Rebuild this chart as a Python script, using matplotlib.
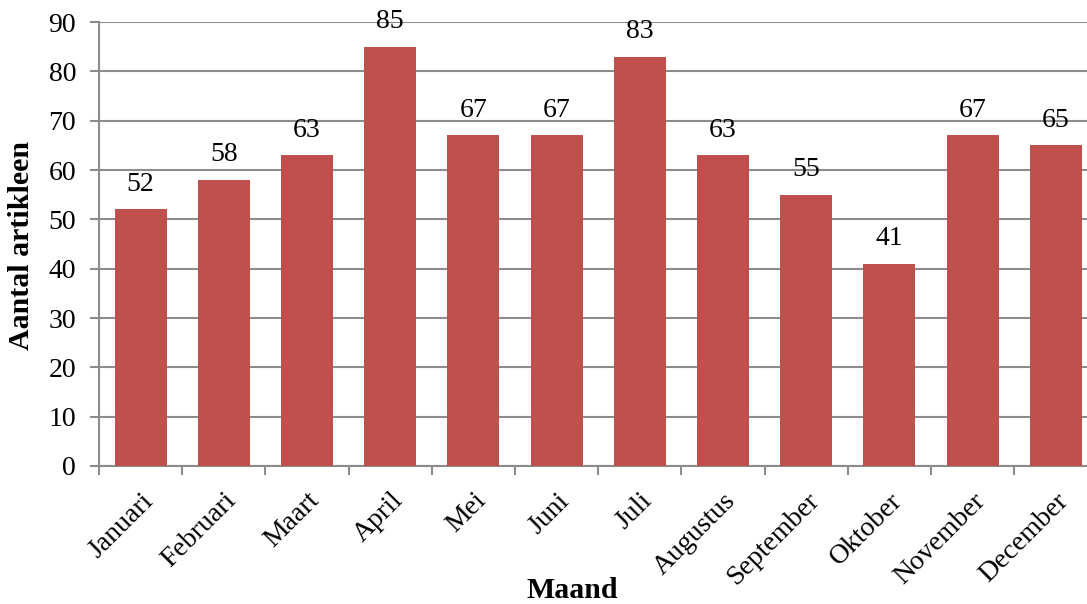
import numpy as np
import matplotlib.pyplot as plt
from matplotlib.ticker import FixedLocator

maanden = ['Januari', 'Februari', 'Maart', 'April', 'Mei', 'Juni', 'Juli',
           'Augustus', 'September', 'Oktober', 'November', 'December']
artikelen = [52, 58, 63, 85, 67, 67, 83, 63, 55, 41, 67, 65]

plt.rcParams['font.family'] = ['Liberation Serif', 'DejaVu Serif']

fig = plt.figure(figsize=(10.87, 6.04), dpi=100)
ax = fig.add_axes([0.091, 0.2285, 0.909, 0.735])

x = np.arange(len(maanden))
bars = ax.bar(x, artikelen, width=0.625, color='#C0504D', zorder=3)

for xi, v in zip(x, artikelen):
    ax.annotate(str(v), (xi, v), xytext=(0, 9), textcoords='offset points',
                ha='center', va='bottom', fontsize=20)

ax.set_ylim(0, 90)
ax.set_yticks(range(0, 91, 10))
ax.set_xlim(-0.5, 11.375)
ax.yaxis.grid(True, color='#8c8c8c', linewidth=1.5, zorder=0)

ax.set_xticks(x)
ax.set_xticklabels(maanden, rotation=45, ha='right', rotation_mode='anchor', fontsize=20)
ax.xaxis.set_minor_locator(FixedLocator(np.arange(-0.5, 12, 1)))
ax.tick_params(axis='x', which='major', length=0, pad=16)
ax.tick_params(axis='x', which='minor', length=6.5, width=1.5, color='#8c8c8c')
ax.tick_params(axis='y', length=6.5, width=1.5, color='#8c8c8c', labelsize=20, pad=10)

for s in ['top', 'right']:
    ax.spines[s].set_visible(False)
for s in ['left', 'bottom']:
    ax.spines[s].set_color('#8c8c8c')
    ax.spines[s].set_linewidth(1.5)

fig.text(22 / 1087, 1 - 246 / 604, 'Aantal artikleen', rotation=90, fontsize=21.5,
         fontweight='bold', ha='center', va='center')
fig.text(0.526, 0.023, 'Maand', fontsize=21.5, fontweight='bold', ha='center', va='center')

fig.savefig('out.png', dpi=100)
